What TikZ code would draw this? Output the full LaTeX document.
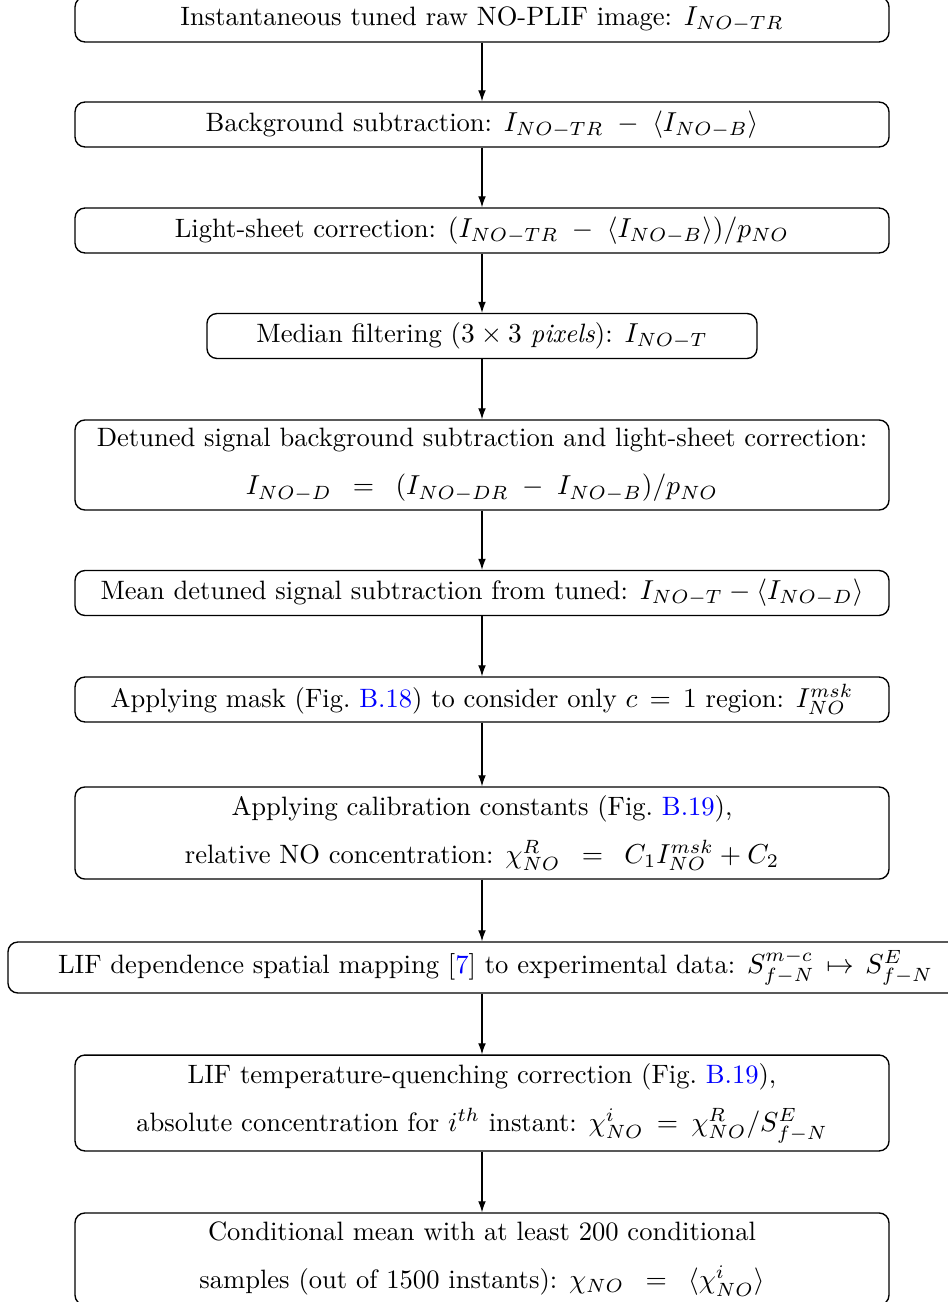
\documentclass[tikz,border=0pt]{standalone}
\usepackage{amsmath}
\usetikzlibrary{arrows.meta}
% spacing helpers for the equations inside the boxes
\newcommand{\wideeq}{\mathrel{\hspace{5pt}=\hspace{5pt}}}
\newcommand{\midEq}{\mathrel{\hspace{2pt}=\hspace{2pt}}}
\newcommand{\widemin}{\mathbin{\;-\;}}
\newcommand{\widemap}{\mathrel{\hspace{1.5pt}\mapsto\hspace{1.5pt}}}
\newcommand{\lnk}[1]{\textcolor{blue}{#1}}
\begin{document}
\begin{tikzpicture}[x=0.365pt,y=-0.365pt,
  stepbox/.style={draw, rounded corners=3.6pt, line width=0.5pt, inner sep=0pt,
    align=center, minimum height=16.4pt, minimum width=297.1pt,
    font=\fontsize{9.7pt}{11.6pt}\selectfont},
  flow/.style={-{Latex[length=4pt,width=2.8pt]}, line width=0.4pt}]
\useasboundingbox (0,0) rectangle (948,1302);
\clip (0,0) rectangle (948,1302);

\node[stepbox] (s1) at (482,19.5) {Instantaneous tuned raw NO-PLIF image: $I_{NO-TR}$};
\node[stepbox] (s2) at (482,124.5) {Background subtraction: $I_{NO-TR}\widemin\langle I_{NO-B}\rangle$};
\node[stepbox] (s3) at (482,230.5) {Light-sheet correction: $(I_{NO-TR}\widemin\langle I_{NO-B}\rangle)/p_{NO}$};
\node[stepbox, minimum width=200.75pt] (s4) at (482,336) {Median filtering ($3\times 3$ \textit{pixels}): $I_{NO-T}$};
\node[stepbox, minimum height=32.85pt] (s5) at (482,465)
  {Detuned signal background subtraction and light-sheet correction:\\[6pt]
   $I_{NO-D}\wideeq(I_{NO-DR}\widemin I_{NO-B})/p_{NO}$};
\node[stepbox] (s6) at (482,593) {Mean detuned signal subtraction from tuned: $I_{NO-T}-\langle I_{NO-D}\rangle$};
\node[stepbox] (s7) at (482,699.5) {Applying mask (Fig.~\lnk{B.18}) to consider only $c\,=\,1$ region: $I^{msk}_{NO}$};
\node[stepbox, minimum height=33.6pt] (s8) at (482,833)
  {Applying calibration constants (Fig.~\lnk{B.19}),\\[6pt]
   relative NO concentration: $\chi^R_{NO}\wideeq C_1I^{msk}_{NO}+C_2$};
\node[stepbox, minimum width=355.9pt, minimum height=18.6pt] (s9) at (495.5,967.5)
  {LIF dependence spatial mapping [\lnk{7}] to experimental data: $S^{m-c}_{f-N}\widemap S^E_{f-N}$};
\node[stepbox, minimum height=35pt] (s10) at (482,1103)
  {LIF temperature-quenching correction (Fig.~\lnk{B.19}),\\[6pt]
   absolute concentration for $i^{th}$ instant: $\chi^i_{NO}\midEq\chi^R_{NO}/S^E_{f-N}$};
\node[stepbox, minimum height=33.6pt] (s11) at (482,1259)
  {Conditional mean with at least 200 conditional\\[6pt]
   samples (out of 1500 instants): $\chi_{NO}\wideeq\langle\chi^i_{NO}\rangle$};

% all connectors run down the common axis of the column
\foreach \a/\b in {s1/s2,s2/s3,s3/s4,s4/s5,s5/s6,s6/s7,s7/s8,s8/s9,s9/s10,s10/s11}
  \draw[flow] (s1.center |- \a.south) -- (s1.center |- \b.north);
\end{tikzpicture}
\end{document}
